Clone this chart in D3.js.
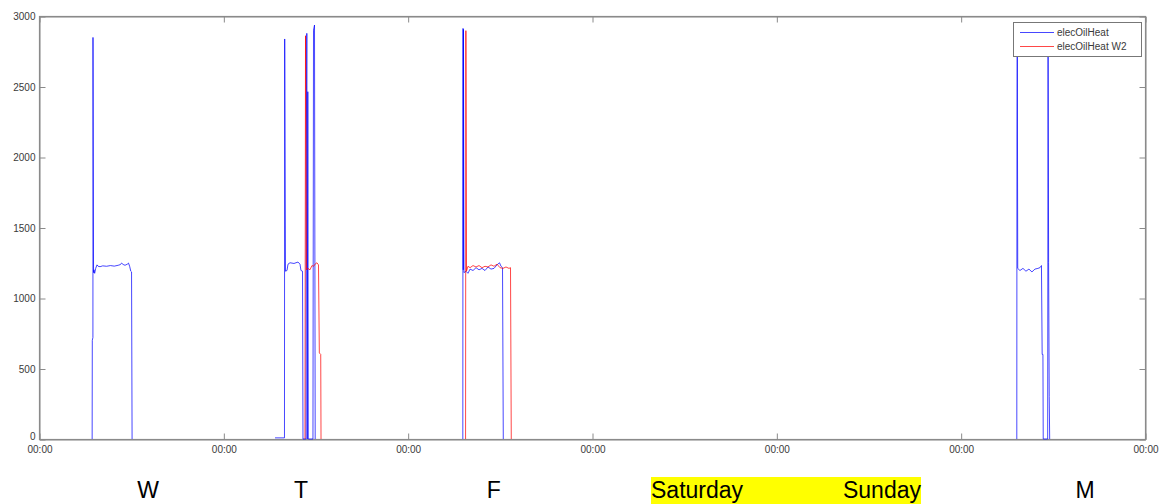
<!DOCTYPE html>
<html>
<head>
<meta charset="utf-8">
<script src="https://cdn.jsdelivr.net/npm/d3@7/dist/d3.min.js"></script>
<style>
  html, body { margin: 0; padding: 0; background: #fff; }
  svg { display: block; }
</style>
</head>
<body>
<svg id="chart" width="1161" height="504"></svg>
<script>
// ---- data (hours since first midnight; null = gap) ----
const xTickHours = [0, 24, 48, 72, 96, 120, 144];
const xTickLabels = ["00:00", "00:00", "00:00", "00:00", "00:00", "00:00", "00:00"];
const yTicks = [0, 500, 1000, 1500, 2000, 2500, 3000];

const blueHours = [
  6.92, 6.94, 7.02, 7.03, 7.10, 7.16, 7.25, 7.38, 7.55, 7.70, 7.95, 8.30, 8.80, 9.30, 9.80, 10.30, 10.60, 10.75, 10.95, 11.20, 11.50, 11.65, 11.80, 11.95, 12.05, 12.12,
  null,
  30.73, 31.96, 31.99, 32.09, 32.29, 32.42, 32.68, 33.20, 33.72, 33.98, 34.11, 34.31, 34.37, 34.76, 34.80, 34.87, 34.93, 35.00, 35.06, 35.67, 35.74, 35.87, 35.96,
  null,
  55.18, 55.21, 55.24, 55.27, 55.33, 55.59, 55.85, 56.12, 56.51, 56.90, 57.29, 57.68, 58.07, 58.46, 58.85, 59.24, 59.63, 59.96, 60.15, 60.35, 60.45,
  null,
  127.31, 127.33, 127.37, 127.43, 127.72, 128.11, 128.50, 128.89, 129.28, 129.67, 130.06, 130.32, 130.52, 130.61, 130.71, 130.75, 131.33, 131.38, 131.45, 131.53, 131.59
];
const blueValues = [
  0, 700, 720, 2848, 1180, 1200, 1175, 1210, 1235, 1225, 1222, 1228, 1225, 1230, 1226, 1232, 1237, 1248, 1238, 1232, 1240, 1248, 1225, 1190, 1185, 0,
  null,
  8, 8, 2837, 1190, 1195, 1240, 1250, 1245, 1255, 1240, 1195, 1190, 0, 0, 2014, 2877, 0, 2463, 0, 0, 2900, 2936, 0,
  null,
  0, 2912, 1200, 2905, 1180, 1190, 1175, 1205, 1195, 1215, 1200, 1210, 1195, 1220, 1205, 1210, 1235, 1250, 1225, 1215, 0,
  null,
  0, 2156, 2890, 1210, 1195, 1210, 1190, 1205, 1185, 1205, 1210, 1215, 1230, 600, 600, 0, 0, 2880, 1250, 300, 0
];

const redHours = [
  34.63, 34.70, 34.83, 35.00, 35.28, 35.54, 35.75, 35.94, 36.19, 36.39, 36.50, 36.68, 36.72,
  null,
  55.54, 55.58, 55.66, 55.85, 56.12, 56.51, 56.90, 57.29, 57.68, 58.07, 58.46, 58.85, 59.24, 59.63, 60.02, 60.41, 60.80, 61.19, 61.39, 61.49
];
const redValues = [
  0, 2860, 1200, 1210, 1200, 1230, 1225, 1240, 1250, 1235, 610, 600, 0,
  null,
  0, 2896, 1190, 1225, 1215, 1230, 1220, 1230, 1215, 1225, 1220, 1235, 1225, 1240, 1215, 1210, 1220, 1210, 1215, 0
];

const seriesNames = ["elecOilHeat", "elecOilHeat W2"];
const seriesColors = ["#0000ff", "#ff0000"];

const dayLabels = ["W", "T", "F", "Saturday", "Sunday", "M"];
const dayLabelHours = [14.2, 34.1, 59.2, 79.0, 96.0, 136.2];

// ---- layout ----
const svg = d3.select("#chart");
const padL = 39, padR = 1145, padT = 16, padB = 439;
const x = d3.scaleLinear().domain([0, 144]).range([padL, padR]);
const y = d3.scaleLinear().domain([0, 3000]).range([padB, padT]);
const axisColor = "#8a8a8a";
const textColor = "#3a3a3a";

// frame
svg.append("rect")
  .attr("x", padL + 0.5).attr("y", padT + 0.5)
  .attr("width", padR - padL).attr("height", padB - padT)
  .attr("fill", "#fff").attr("stroke", axisColor).attr("stroke-width", 1.2);

// axes (ticks inward)
const gx = svg.append("g").attr("transform", `translate(0.5,${padB + 0.5})`)
  .call(d3.axisBottom(x).tickValues(xTickHours)
    .tickFormat((d, i) => xTickLabels[i]).tickSizeInner(-6).tickSizeOuter(0).tickPadding(10));
const gxt = svg.append("g").attr("transform", `translate(0.5,${padT + 0.5})`)
  .call(d3.axisTop(x).tickValues(xTickHours).tickFormat("").tickSizeInner(-6).tickSizeOuter(0));
const gy = svg.append("g").attr("transform", `translate(${padL + 0.5},0.5)`)
  .call(d3.axisLeft(y).tickValues(yTicks).tickFormat(d3.format("d")).tickSizeInner(-6).tickSizeOuter(0).tickPadding(4));
const gyr = svg.append("g").attr("transform", `translate(${padR + 0.5},0.5)`)
  .call(d3.axisRight(y).tickValues(yTicks).tickFormat("").tickSizeInner(-6).tickSizeOuter(0));

[gx, gxt, gy, gyr].forEach(g => {
  g.select(".domain").attr("stroke", axisColor);
  g.selectAll(".tick line").attr("stroke", axisColor);
  g.selectAll("text").attr("fill", textColor)
    .style("font-family", "'Liberation Sans', Arial, sans-serif").style("font-size", "10px");
});
gx.selectAll("text").attr("dy", "0.3em");
// nudge the "0" label up a little so it sits above the corner "00:00"
gy.selectAll(".tick").filter(d => d === 0).select("text").attr("y", -3);

// series
function pts(hours, values) {
  return hours.map((h, i) => ({ h: h, v: values[i] }));
}
const line = d3.line()
  .defined(d => d.h != null && d.v != null)
  .x(d => x(d.h)).y(d => y(d.v));

svg.append("path").datum(pts(blueHours, blueValues))
  .attr("d", line).attr("fill", "none")
  .attr("stroke", seriesColors[0]).attr("stroke-width", 1).attr("stroke-opacity", 0.72);
svg.append("path").datum(pts(redHours, redValues))
  .attr("d", line).attr("fill", "none")
  .attr("stroke", seriesColors[1]).attr("stroke-width", 1).attr("stroke-opacity", 0.72);

// legend
const lg = svg.append("g");
lg.append("rect").attr("x", 1013.5).attr("y", 22.5).attr("width", 128).attr("height", 34)
  .attr("fill", "#fff").attr("stroke", "#777");
seriesNames.forEach((name, i) => {
  const yy = 32 + i * 14;
  lg.append("line").attr("x1", 1020).attr("x2", 1054).attr("y1", yy + 0.5).attr("y2", yy + 0.5)
    .attr("stroke", seriesColors[i]).attr("stroke-opacity", 0.72);
  lg.append("text").attr("x", 1057).attr("y", yy + 3.5).text(name)
    .attr("fill", textColor).style("font-family", "'Liberation Sans', Arial, sans-serif").style("font-size", "10px");
});

// day labels with yellow highlight for the weekend
svg.append("rect").attr("x", 651).attr("y", 477).attr("width", 270).attr("height", 27).attr("fill", "#ffff00");
const dayText = svg.append("g");
dayLabels.forEach((lab, i) => {
  dayText.append("text")
    .attr("x", lab === "Saturday" ? 651 : (lab === "Sunday" ? 921 : x(dayLabelHours[i])))
    .attr("y", 498)
    .attr("text-anchor", lab === "Saturday" ? "start" : (lab === "Sunday" ? "end" : "middle"))
    .style("font-family", "'Liberation Sans', Arial, sans-serif").style("font-size", "23px")
    .attr("fill", "#000").text(lab);
});
</script>
</body>
</html>
